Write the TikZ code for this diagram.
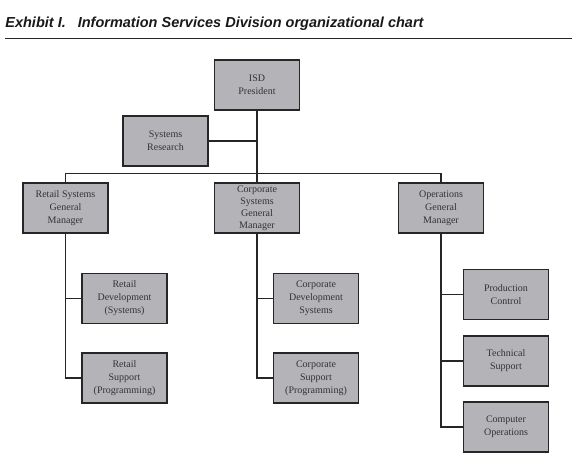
\documentclass[tikz,border=0pt]{standalone}
\usepackage{fontspec}
\setmainfont{Liberation Serif}
\newfontfamily\titlefont{Liberation Sans}
\definecolor{boxgray}{HTML}{B4B4B8}
\definecolor{inkgray}{HTML}{262626}
\definecolor{txtgray}{HTML}{333333}

\begin{document}
\begin{tikzpicture}[x=1pt,y=-1pt,
  thick,unit node/.style={rectangle,draw=inkgray,fill=boxgray,line width=1.6pt,
    minimum width=85pt,minimum height=50pt,inner sep=0pt,align=center,
    text=txtgray,font=\fontsize{10}{13}\selectfont},
  link/.style={draw=inkgray,line width=1.3pt}]

  \useasboundingbox (0,0) rectangle (572,471);

  % heading
  \node[anchor=base west,inner sep=0pt,text=black!90] (title) at (5,27.5)
    {\titlefont\fontsize{14.5}{16}\selectfont\bfseries\itshape
     Exhibit I.\hspace{12pt}Information Services Division organizational chart};
  \coordinate (r1) at (5,38.3);
  \coordinate (r2) at (572,38.3);
  \draw[inkgray,line width=1.1pt] (r1) -- (r2);

  % boxes
  \node[unit node] (isd) at (257,85) {ISD\\President};
  \node[unit node] (sr) at (165.5,141) {Systems\\Research};
  \node[unit node] (rgm) at (65.5,208) {Retail Systems\\General\\Manager};
  \node[unit node,font=\fontsize{10}{12}\selectfont] (cgm) at (257,208)
    {Corporate\\Systems\\General\\Manager};
  \node[unit node] (ogm) at (441,208) {Operations\\General\\Manager};
  \node[unit node] (rdev) at (124.5,298.5) {Retail\\Development\\(Systems)};
  \node[unit node] (rsup) at (124.5,378) {Retail\\Support\\(Programming)};
  \node[unit node] (cdev) at (316,298.5) {Corporate\\Development\\Systems};
  \node[unit node] (csup) at (316,378) {Corporate\\Support\\(Programming)};
  \node[unit node] (prod) at (506,294.5) {Production\\Control};
  \node[unit node] (tech) at (506,361) {Technical\\Support};
  \node[unit node] (comp) at (506,427) {Computer\\Operations};

  \coordinate (bar) at (257,173.5);

  % lines
  \path[link]
   (isd) -- (bar)
   (sr.east) -- (sr.east -| isd)
   (rgm.north) |- (bar)
   (bar) -| (ogm.north)
   (bar) -- (cgm.north)
   (rgm.south) |- (rdev.west)
   (rgm.south) |- (rsup.west)
   (cgm.south) |- (cdev.west)
   (cgm.south) |- (csup.west)
   (ogm.south) |- (prod.west)
   (ogm.south) |- (tech.west)
   (ogm.south) |- (comp.west);
\end{tikzpicture}
\end{document}
